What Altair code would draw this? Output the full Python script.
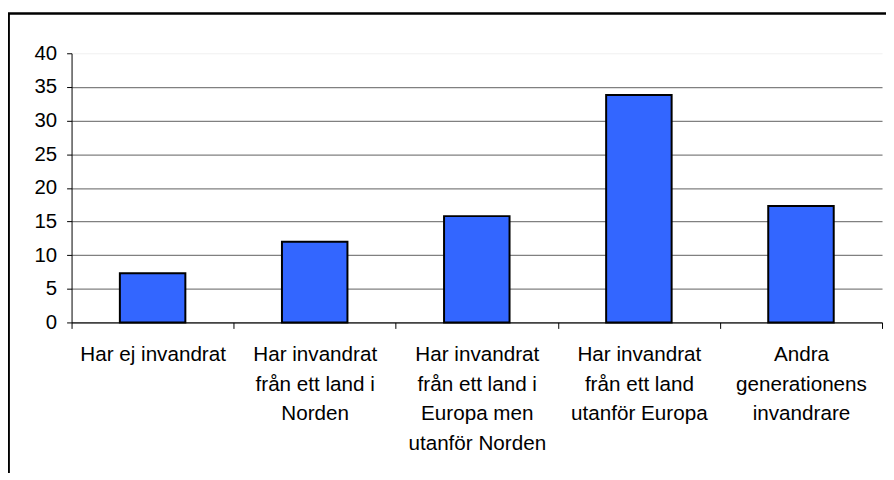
import altair as alt
import pandas as pd

# Category labels (line breaks as in the original axis)
categories = [
    "Har ej invandrat",
    "Har invandrat\nfrån ett land i\nNorden",
    "Har invandrat\nfrån ett land i\nEuropa men\nutanför Norden",
    "Har invandrat\nfrån ett land\nutanför Europa",
    "Andra\ngenerationens\ninvandrare",
]
values = [7.3, 12.0, 15.8, 33.8, 17.3]
y_ticks = [0, 5, 10, 15, 20, 25, 30, 35, 40]

df = pd.DataFrame({"kategori": categories, "andel": values})

FONT = "Liberation Sans"

frame = alt.Chart(pd.DataFrame({"f": [0]})).mark_rect(
    fill="white", fillOpacity=0, stroke="#000000", strokeWidth=2.4
).encode(
    x=alt.value(-63.3), y=alt.value(-40), x2=alt.value(900), y2=alt.value(500)
)

bars = alt.Chart(df).mark_bar(
    color="#3366FF", stroke="#000000", strokeWidth=2,
    width=alt.RelativeBandSize(0.404),
).encode(
    x=alt.X(
        "kategori:N",
        sort=None,
        title=None,
        scale=alt.Scale(paddingInner=0, paddingOuter=0),
        axis=alt.Axis(
            labelAngle=0,
            labelExpr="isString(datum.value) ? split(datum.value, '\\n') : ''",
            tickBand="extent",
            grid=False,
            domainColor="#000000",
            tickColor="#000000",
            tickSize=6,
            labelPadding=16.5,
            labelFontSize=20.8,
            labelLineHeight=29.7,
            labelColor="#000000",
            labelFont=FONT,
            labelLimit=0,
        ),
    ),
    y=alt.Y(
        "andel:Q",
        title=None,
        scale=alt.Scale(domain=[0, 40], nice=False),
        axis=alt.Axis(
            values=y_ticks,
            grid=True,
            gridColor={"condition": {"test": "datum.value === 40", "value": "#f0f0f0"}, "value": "#808080"},
            gridWidth=1.2,
            domainColor="#000000",
            tickColor="#000000",
            tickSize=5,
            labelPadding=10,
            labelFontSize=20.5,
            labelColor="#000000",
            labelFont=FONT,
        ),
    ),
)

chart = alt.layer(frame, bars).properties(
    width=816,
    height=271,
    autosize=alt.AutoSizeParams(type="none"),
    padding={"left": 64, "top": 44, "right": 4, "bottom": 150},
).configure_view(stroke=None)

chart.save("out.html", embed_options={"renderer": "svg", "actions": False})
